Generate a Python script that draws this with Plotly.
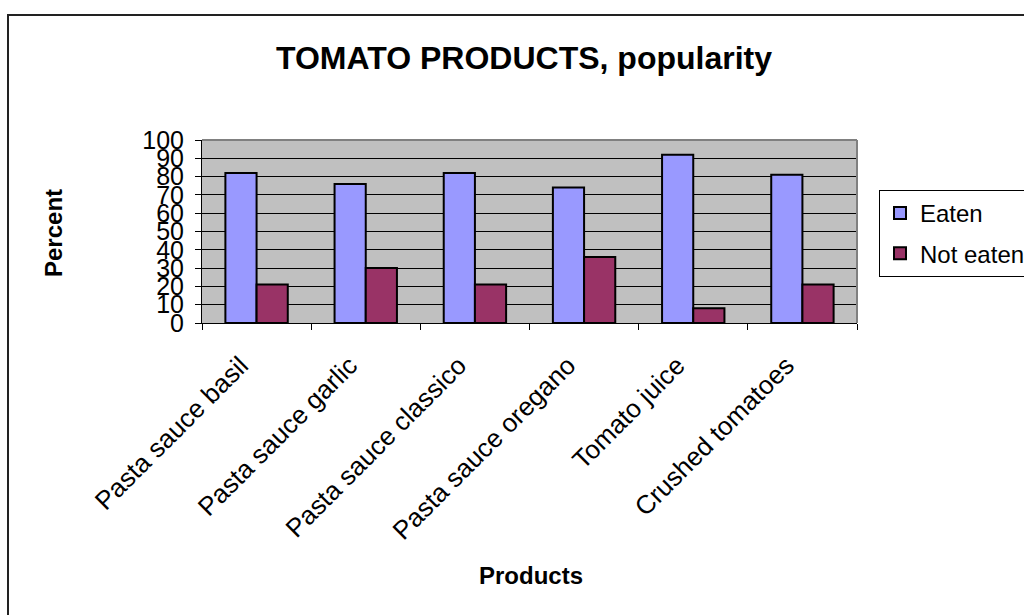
import plotly.graph_objects as go

# Survey results: share of respondents who ate / did not eat each product
products = [
    "Pasta sauce basil",
    "Pasta sauce garlic",
    "Pasta sauce classico",
    "Pasta sauce oregano",
    "Tomato juice",
    "Crushed tomatoes",
]
eaten = [82, 76, 82, 74, 92, 81]
not_eaten = [21, 30, 21, 36, 8, 21]
y_ticks = list(range(0, 101, 10))

FONT = "Arial, Liberation Sans, sans-serif"

# Plot-area geometry in pixels (1024 x 615 page)
W, H = 1024, 615
L, R, T, B = 202, 857, 140, 323
pw, ph = R - L, B - T


def px(xp):
    return (xp - L) / pw


def py(yp):
    return (B - yp) / ph


fig = go.Figure()
fig.add_trace(go.Bar(
    name="Eaten", x=products, y=eaten,
    marker=dict(color="#9999FF", line=dict(color="black", width=2)),
    legendgroup="a",
))
fig.add_trace(go.Bar(
    name="Not eaten", x=products, y=not_eaten,
    marker=dict(color="#993366", line=dict(color="black", width=2)),
    legendgroup="b",
))

fig.update_layout(
    width=W, height=H,
    margin=dict(l=L, r=W - R, t=T, b=H - B, autoexpand=False),
    paper_bgcolor="white",
    plot_bgcolor="#C0C0C0",
    barmode="group",
    bargap=0.4286,
    bargroupgap=0,
    font=dict(family=FONT, size=24, color="black"),
    showlegend=True,
    legend=dict(
        x=px(879), y=py(190), xanchor="left", yanchor="top",
        bgcolor="white", bordercolor="black", borderwidth=1,
        font=dict(family=FONT, size=24, color="black"),
        tracegroupgap=6,
        traceorder="grouped",
    ),
    xaxis=dict(
        type="category",
        showline=True, linecolor="black", linewidth=1,
        ticks="outside", tickson="boundaries", ticklen=6, tickcolor="black",
        tickangle=-45,
        ticklabelstandoff=16,
        ticklabelshift=-16,
        tickfont=dict(family=FONT, size=26, color="black"),
        showgrid=False,
        fixedrange=True,
    ),
    yaxis=dict(
        range=[0, 100],
        tickvals=y_ticks,
        ticktext=[str(v) for v in y_ticks],
        showline=True, linecolor="black", linewidth=1,
        ticks="outside", ticklen=6, tickcolor="black",
        ticklabelstandoff=6,
        tickfont=dict(family=FONT, size=25, color="black"),
        showgrid=True, gridcolor="black", gridwidth=1,
        zeroline=False,
        fixedrange=True,
    ),
    annotations=[
        dict(text="<b>TOMATO PRODUCTS, popularity</b>",
             xref="paper", yref="paper", x=px(524), y=py(58),
             xanchor="center", yanchor="middle", showarrow=False,
             font=dict(family=FONT, size=32, color="black")),
        dict(text="<b>Percent</b>",
             xref="paper", yref="paper", x=px(53), y=py(233),
             xanchor="center", yanchor="middle", showarrow=False,
             textangle=-90,
             font=dict(family=FONT, size=24, color="black")),
        dict(text="<b>Products</b>",
             xref="paper", yref="paper", x=px(531), y=py(575),
             xanchor="center", yanchor="middle", showarrow=False,
             font=dict(family=FONT, size=24, color="black")),
    ],
    shapes=[
        # chart frame
        dict(type="rect", xref="paper", yref="paper",
             x0=px(8), y0=py(640), x1=px(1040), y1=py(15),
             line=dict(color="#222222", width=2), layer="above"),
        # plot-area top and right edges
        dict(type="line", xref="paper", yref="paper",
             x0=0, y0=1, x1=1, y1=1,
             line=dict(color="#808080", width=2), layer="above"),
        dict(type="line", xref="paper", yref="paper",
             x0=1, y0=0, x1=1, y1=1,
             line=dict(color="#808080", width=2), layer="above"),
    ],
)

fig.write_html("out.html")
